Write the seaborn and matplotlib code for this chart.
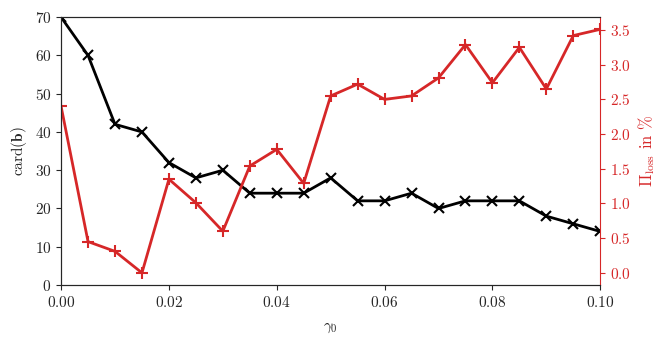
import matplotlib
matplotlib.use("Agg")
import matplotlib.pyplot as plt
import numpy as np
import pandas as pd
import seaborn as sns

# ==================== DATA ====================
gamma0 = [0.000, 0.005, 0.010, 0.015, 0.020, 0.025, 0.030, 0.035, 0.040, 0.045, 0.050,
          0.055, 0.060, 0.065, 0.070, 0.075, 0.080, 0.085, 0.090, 0.095, 0.100]
card_b = [70, 60, 42, 40, 32, 28, 30, 24, 24, 24, 28,
          22, 22, 24, 20, 22, 22, 22, 18, 16, 14]
pi_loss = [2.40, 0.45, 0.31, 0.00, 1.35, 1.01, 0.60, 1.54, 1.78, 1.29, 2.55,
           2.72, 2.50, 2.55, 2.81, 3.29, 2.74, 3.25, 2.65, 3.42, 3.51]

RED = "#d62728"

# ==================== STYLE ====================
sns.set_style("ticks")
plt.rcParams["font.family"] = "serif"
plt.rcParams["font.serif"] = ["cmr10", "DejaVu Serif"]
plt.rcParams["mathtext.fontset"] = "cm"
plt.rcParams["axes.formatter.use_mathtext"] = True
plt.rcParams["font.size"] = 11

df = pd.DataFrame({"gamma0": gamma0, "card": card_b, "loss": pi_loss})

fig = plt.figure(figsize=(6.64, 3.43), dpi=100)
ax = fig.add_axes([0.092, 0.169, 0.812, 0.781])

sns.lineplot(data=df, x="gamma0", y="card", ax=ax, color="black", marker="x",
             markersize=7.5, markeredgewidth=1.5, markeredgecolor="black", linewidth=2)
ax.set_xlim(0, 0.1)
ax.set_ylim(0, 70)
ax.set_xlabel(r"$\gamma_0$", labelpad=8)
ax.set_ylabel(r"card$(\mathbf{b})$")

ax2 = ax.twinx()
sns.lineplot(data=df, x="gamma0", y="loss", ax=ax2, color=RED, marker="+",
             markersize=8.5, markeredgewidth=1.5, markeredgecolor=RED, linewidth=2)
ax2.set_ylabel(r"$\Pi_{\mathrm{loss}}$ in %", color=RED, fontsize=12)
ax2.tick_params(axis="y", colors=RED)
ax2.spines["right"].set_color(RED)
ax2.set_yticks(np.arange(0, 3.51, 0.5))
ax2.set_xlim(0, 0.1)

for a in (ax, ax2):
    a.spines["top"].set_visible(True)
    a.spines["right"].set_visible(True)
ax.spines["right"].set_visible(False)

plt.savefig("out.png", dpi=100)
plt.close()
